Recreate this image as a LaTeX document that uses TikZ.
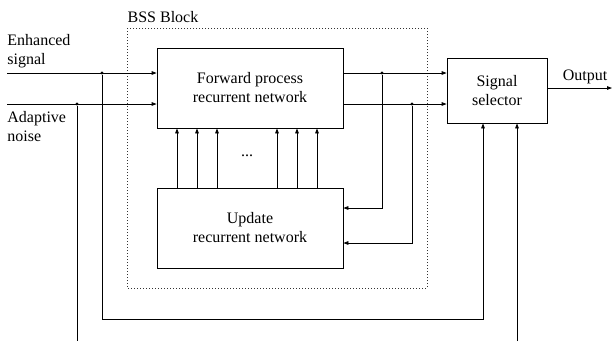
\documentclass[tikz,border=0pt]{standalone}
\usepackage{fontspec}
\setmainfont{Liberation Serif}
\usetikzlibrary{arrows.meta,calc}
\begin{document}
\begin{tikzpicture}[x=1pt,y=-1pt,
  line width=0.8pt,
  every node/.style={font=\rmfamily\fontsize{16}{19}\selectfont},
  blockbox/.style={draw, rectangle, align=center, inner sep=0pt},
  arr/.style={-{Triangle[length=5pt,width=3.6pt]}},
  jdot/.style={circle, fill, inner sep=0pt, minimum size=3.2pt},
  lbl/.style={align=left, inner sep=0pt}]
\useasboundingbox (0,0) rectangle (612,341);
% BSS dotted frame
\draw[dotted, line width=1pt, black!80] (127,28) rectangle (427,288);
\node[inner sep=0pt] (bss) at (163,17) {BSS Block};
% blocks
\node[blockbox, minimum width=186pt, minimum height=80pt] (fwd) at (250,88) {Forward process\\recurrent network};
\node[blockbox, minimum width=186pt, minimum height=80pt] (upd) at (250,228) {Update\\recurrent network};
\node[blockbox, minimum width=100pt, minimum height=65pt] (sel) at (497,90.5) {Signal\\selector};
% labels
\node[lbl, anchor=west] (enh) at (7,51) {Enhanced\\signal};
\node[lbl, anchor=west] (adn) at (7,127) {Adaptive\\noise};
\node[inner sep=0pt] (dots) at (247,156) {...};
\node[inner sep=0pt] (outl) at (585,77) {Output};
% coordinates
\coordinate (inE) at (7,73);
\coordinate (inA) at (7,104);
\node[jdot] (dE) at (102,73) {};
\node[jdot] (dA) at (77,104) {};
\coordinate (botA) at (77,341);
\coordinate (botR) at (517,341);
\coordinate (cornE1) at (102,319);
\coordinate (cornE2) at (483,319);
\coordinate (outE) at (612,88);
\node[jdot] (f1) at (382,73) {};
\node[jdot] (f2) at (412,104) {};
% inputs
\draw[arr] (inE) -- (inE -| fwd.west);
\draw[arr] (inA) -- (inA -| fwd.west);
\draw (dA) -- (botA);
\draw[arr] (dE) -- (cornE1) -- (cornE2) -- (cornE2 |- sel.south);
\draw[arr] (botR) -- (botR |- sel.south);
% forward outputs
\draw[arr] (inE -| fwd.east) -- (inE -| sel.west);
\draw[arr] (inA -| fwd.east) -- (inA -| sel.west);
% feedback to update
\draw[arr] (f1) -- (382,208) -- (upd.east |- 0,208);
\draw[arr] (f2) -- (412,243) -- (upd.east |- 0,243);
% update to forward
\foreach \dx in {-73,-53,-33,27,47,67}
  \draw[arr] ([xshift=\dx pt]upd.north) -- ([xshift=\dx pt]fwd.south);
% output
\draw[arr] (sel.east |- outE) -- (outE);
\end{tikzpicture}
\end{document}
